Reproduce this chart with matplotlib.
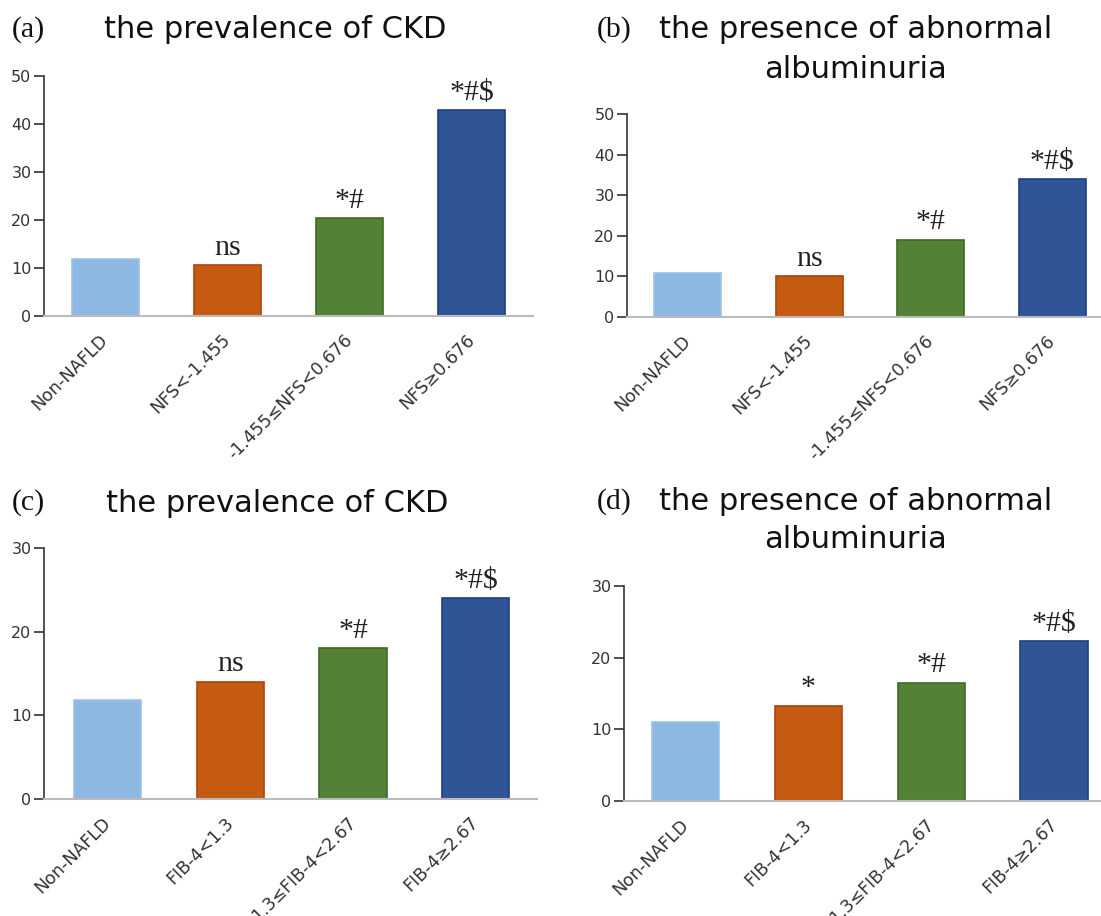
import matplotlib
matplotlib.use("Agg")
from matplotlib import pyplot as plt
from matplotlib import transforms
import numpy as np

# categories
nfs_labels = ["Non-NAFLD", "NFS<-1.455", "-1.455≤NFS<0.676", "NFS≥0.676"]
fib_labels = ["Non-NAFLD", "FIB-4<1.3", "1.3≤FIB-4<2.67", "FIB-4≥2.67"]

# values (%)
nfs_ckd = [11.9, 10.6, 20.4, 42.9]
nfs_alb = [10.8, 10.0, 19.0, 34.0]
fib_ckd = [11.8, 14.0, 18.0, 24.0]
fib_alb = [11.0, 13.3, 16.5, 22.3]

# significance marks
nfs_ckd_sig = ["", "ns", "*#", "*#$"]
nfs_alb_sig = ["", "ns", "*#", "*#$"]
fib_ckd_sig = ["", "ns", "*#", "*#$"]
fib_alb_sig = ["", "*", "*#", "*#$"]

colors = ["#8DB8E2", "#C55A11", "#538135", "#2F5597"]
edges = ["#9CC2E8", "#B0400F", "#3F6B28", "#1F3F80"]

W, H = 1101, 916
fig = plt.figure(figsize=(W / 100, H / 100), dpi=100)


def px(x0, y0, x1, y1):
    # rectangle in pixel coords (top-left origin) -> axes rect
    return [x0 / W, 1 - y1 / H, (x1 - x0) / W, (y1 - y0) / H]


def panel(rect, vals, sig, labels, ymax, xlim):
    ax = fig.add_axes(rect)
    x = np.arange(len(vals))
    ax.bar(x, vals, width=0.55, color=colors, edgecolor=edges, linewidth=1.2, zorder=2)
    for xi, v, s in zip(x, vals, sig):
        if s:
            ax.annotate(s, (xi, v), xytext=(0, 7.5), textcoords="offset points",
                        ha="center", va="baseline", family="Liberation Serif",
                        fontsize=21.5, color="#222222")
    ax.set_xlim(*xlim)
    ax.set_ylim(0, ymax)
    ax.set_yticks(np.arange(0, ymax + 1, 10))
    ax.set_xticks(x)
    ax.set_xticklabels(labels, rotation=45, ha="right", va="center",
                       rotation_mode="anchor", fontsize=12.5, color="#333333",
                       family="DejaVu Sans")
    shift = transforms.ScaledTranslation(21 / 100, 0, fig.dpi_scale_trans)
    for lab in ax.get_xticklabels():
        lab.set_transform(lab.get_transform() + shift)
    ax.tick_params(axis="x", length=0, pad=15)
    ax.tick_params(axis="y", length=7, width=1.2, color="#333333", labelsize=11.5,
                   labelcolor="#333333", pad=2)
    for lab in ax.get_yticklabels():
        lab.set_family("DejaVu Sans")
    ax.spines["top"].set_visible(False)
    ax.spines["right"].set_visible(False)
    ax.spines["left"].set_color("#333333")
    ax.spines["left"].set_linewidth(1.2)
    ax.spines["bottom"].set_color("#BBBBBB")
    ax.spines["bottom"].set_linewidth(1.5)
    return ax


panel(px(44, 76, 533, 316), nfs_ckd, nfs_ckd_sig, nfs_labels, 50, (-0.5, 3.5))
panel(px(627, 114, 1101, 317), nfs_alb, nfs_alb_sig, nfs_labels, 50, (-0.5, 3.4))
panel(px(44, 548, 537, 799), fib_ckd, fib_ckd_sig, fib_labels, 30, (-0.52, 3.5))
panel(px(624, 586, 1101, 801), fib_alb, fib_alb_sig, fib_labels, 30, (-0.5, 3.38))

title_kw = dict(fontsize=22, family="DejaVu Sans", color="#111111", ha="center", va="center")
lab_kw = dict(fontsize=21.5, family="Liberation Serif", color="#111111", ha="left", va="center")

fig.text(12 / W, 1 - 30 / H, "(a)", **lab_kw)
fig.text(275 / W, 1 - 30 / H, "the prevalence of CKD", **title_kw)
fig.text(597 / W, 1 - 30 / H, "(b)", **lab_kw)
fig.text(856 / W, 1 - 30 / H, "the presence of abnormal", **title_kw)
fig.text(856 / W, 1 - 70 / H, "albuminuria", **title_kw)
fig.text(12 / W, 1 - 503 / H, "(c)", **lab_kw)
fig.text(277 / W, 1 - 503 / H, "the prevalence of CKD", **title_kw)
fig.text(597 / W, 1 - 502 / H, "(d)", **lab_kw)
fig.text(856 / W, 1 - 502 / H, "the presence of abnormal", **title_kw)
fig.text(856 / W, 1 - 540 / H, "albuminuria", **title_kw)

fig.savefig("out.png", dpi=100)
